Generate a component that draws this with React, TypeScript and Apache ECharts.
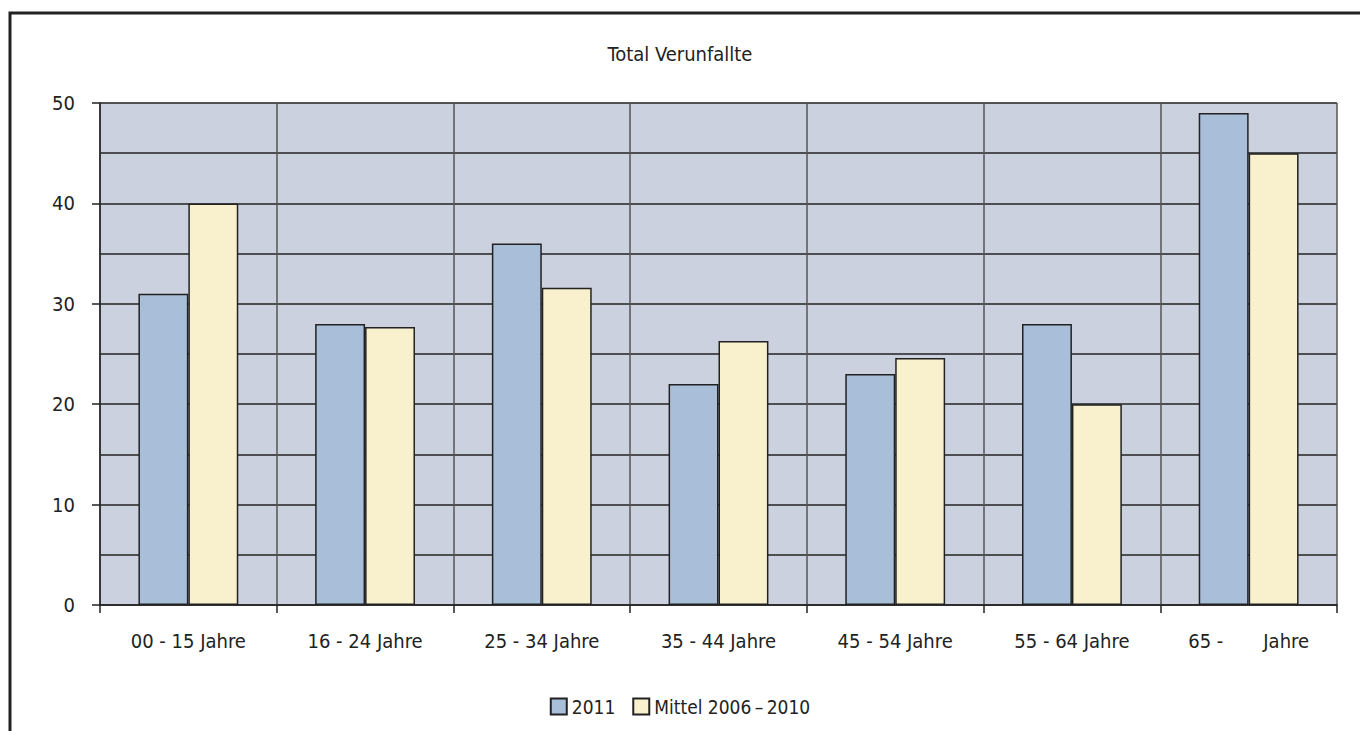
import React, { useEffect, useRef } from "react";
import * as echarts from "echarts";

const categories = [
  "00 - 15 Jahre",
  "16 - 24 Jahre",
  "25 - 34 Jahre",
  "35 - 44 Jahre",
  "45 - 54 Jahre",
  "55 - 64 Jahre",
  "65 -       Jahre",
];
const values2011 = [31, 28, 36, 22, 23, 28, 49];
const valuesMittel = [40, 27.7, 31.6, 26.3, 24.6, 20, 45];
const seriesNames = ["2011", "Mittel 2006\u2009\u2013\u20092010"];
const titleText = "Total Verunfallte";

const FONT = "'Liberation Sans Narrow', 'DejaVu Sans Condensed', 'Noto Sans', sans-serif";

export default function App() {
  const ref = useRef<HTMLDivElement>(null);
  useEffect(() => {
    if (!ref.current) return;
    const chart = echarts.init(ref.current, null, { renderer: "svg" });
    chart.setOption({
      animation: false,
      backgroundColor: "#ffffff",
      title: {
        text: titleText,
        left: "center",
        top: 39,
        textStyle: { fontFamily: FONT, fontSize: 20, fontWeight: "normal", color: "#222" },
      },
      legend: {
        bottom: 10,
        left: "center",
        itemWidth: 16,
        itemHeight: 16,
        itemGap: 17,
        icon: "rect",
        textStyle: { fontFamily: FONT, fontSize: 19, color: "#222" },
        data: seriesNames,
      },
      graphic: [
        {
          type: "rect",
          shape: { x: 10, y: 13, width: 1400, height: 800 },
          style: { fill: "none", stroke: "#222", lineWidth: 3 },
          silent: true,
        },
      ],
      grid: {
        left: 100,
        right: 23,
        top: 103,
        bottom: 126,
        show: true,
        backgroundColor: "#CBD1DF",
        borderWidth: 0,
      },
      xAxis: {
        type: "category",
        data: categories,
        boundaryGap: true,
        axisLine: { show: true, lineStyle: { color: "#222", width: 1.5 } },
        axisTick: { show: true, length: 8, lineStyle: { color: "#222", width: 1.5 } },
        axisLabel: { fontFamily: FONT, fontSize: 20, color: "#222", margin: 26 },
        splitLine: { show: true, lineStyle: { color: "#555", width: 1.5 } },
      },
      yAxis: {
        type: "value",
        min: 0,
        max: 50,
        interval: 10,
        axisLine: { show: true, lineStyle: { color: "#222", width: 1.5 } },
        axisTick: { show: true, length: 8, lineStyle: { color: "#222", width: 1.5 } },
        axisLabel: { fontFamily: FONT, fontSize: 20, color: "#222", margin: 25 },
        splitLine: { show: true, lineStyle: { color: "#222", width: 1.5 } },
        minorTick: { show: false, splitNumber: 2 },
        minorSplitLine: { show: true, lineStyle: { color: "#222", width: 1.5 } },
      },
      series: [
        {
          name: seriesNames[0],
          type: "bar",
          data: values2011,
          barGap: "0%",
          barCategoryGap: "43.5%",
          itemStyle: { color: "#A9BED8", borderColor: "#222", borderWidth: 1.5 },
        },
        {
          name: seriesNames[1],
          type: "bar",
          data: valuesMittel,
          barGap: "0%",
          barCategoryGap: "43.5%",
          itemStyle: { color: "#F9F0CD", borderColor: "#222", borderWidth: 1.5 },
        },
      ],
    });
    return () => chart.dispose();
  }, []);
  return (
    <div
      ref={ref}
      style={{ position: "fixed", left: 0, top: 0, width: 1360, height: 731 }}
    />
  );
}
